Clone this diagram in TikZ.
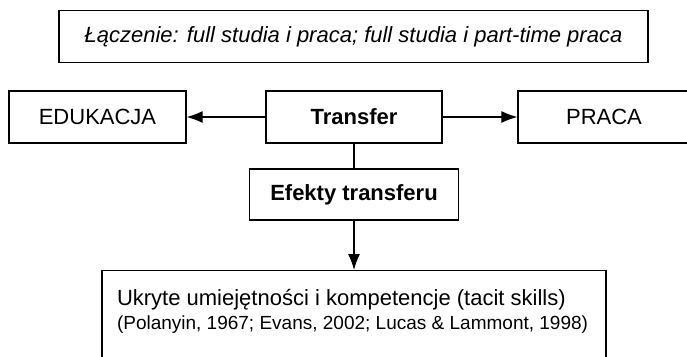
\documentclass[tikz,border=0pt]{standalone}
\usepackage{fontspec}
\setmainfont{Liberation Sans}
\usetikzlibrary{arrows.meta}

\begin{document}
\begin{tikzpicture}[x=1pt, y=-1pt, line width=1.3pt,
    box/.style={draw, rectangle, inner sep=0pt, minimum height=52pt, font=\fontsize{22}{25}\selectfont},
    arr/.style={-{Latex[length=16pt, width=12pt]}, line width=1.2pt}]
    \clip (0,0) rectangle (687,356);
    % gorny opis
    \node[box, minimum width=589pt, font=\fontsize{22}{25}\selectfont\itshape] (laczenie) at (353.5,36.5) {Łączenie: full studia i praca; full studia i part-time praca};
    % srodkowy rzad
    \node[box, minimum width=177pt] (edukacja) at (97.5,117) {EDUKACJA};
    \node[box, minimum width=176pt, font=\fontsize{22}{25}\selectfont\bfseries] (transfer) at (354,117) {Transfer};
    \node[box, minimum width=172pt] (praca) at (604,117) {PRACA};
    \node[box, minimum width=209pt, minimum height=51pt, font=\fontsize{22}{25}\selectfont\bfseries] (efekty) at (354,194.5) {Efekty transferu};
    % dolna ramka, ucieta u dolu
    \node[draw, rectangle, inner sep=0pt, minimum width=504pt, minimum height=120pt, anchor=north] (ukryte) at (354,270) {};
    \node[anchor=north west, align=left, inner sep=0pt, font=\fontsize{22}{24}\selectfont] (opis) at ([xshift=15pt, yshift=-19pt]ukryte.north west) {Ukryte umiejętności i kompetencje (tacit skills)\\ {\fontsize{19}{22}\selectfont (Polanyin, 1967; Evans, 2002; Lucas \& Lammont, 1998)}};
    % strzalki
    \draw[arr] (transfer) -- (edukacja);
    \draw[arr] (transfer) -- (praca);
    \draw[line width=1.2pt] (transfer) -- (efekty);
    \draw[arr] (efekty) -- (ukryte);
\end{tikzpicture}
\end{document}
